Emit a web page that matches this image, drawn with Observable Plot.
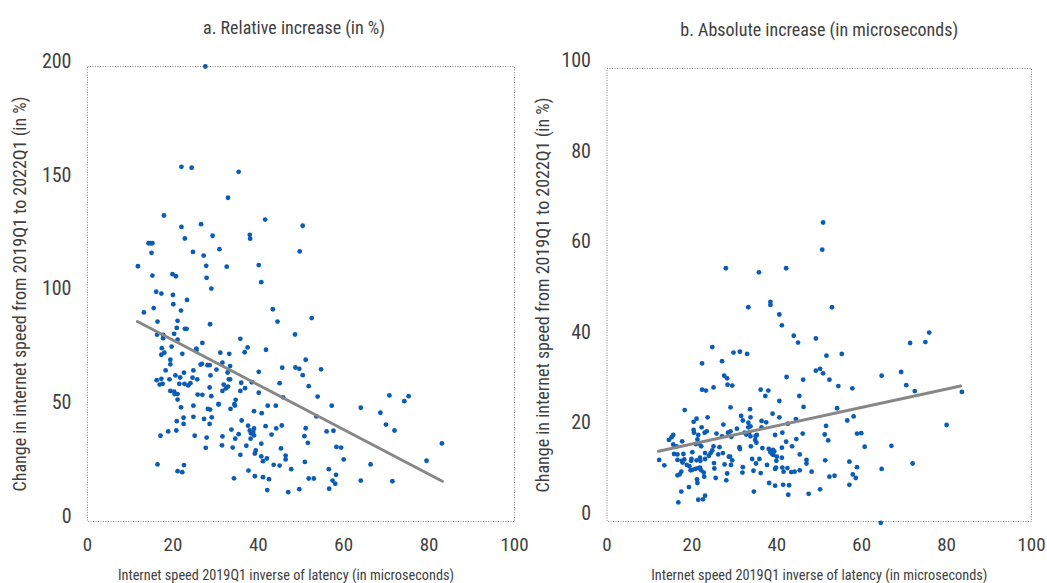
<!DOCTYPE html>
<html><head><meta charset="utf-8">
<script src="https://cdn.jsdelivr.net/npm/d3@7"></script>
<script src="https://cdn.jsdelivr.net/npm/@observablehq/plot@0.6"></script>
<style>
body{margin:0;background:#fff;}
#wrap{position:relative;width:1047px;height:583px;overflow:hidden;}
.panel{position:absolute;top:0;}
</style></head><body><div id="wrap"></div>
<script>
// ---- Panel a: relative increase (in %) ----
const xA = [27.6,22.0,24.4,35.4,32.9,17.9,41.6,22.0,26.6,22.8,29.3,38.0,38.1,14.3,14.8,15.2,15.0,30.9,24.7,27.2,49.7,50.4,11.8,15.2,19.9,20.7,27.8,32.6,40.1,27.9,40.7,29.0,16.1,17.3,20.0,23.3,20.1,15.5,13.2,21.9,43.4,52.5,16.4,21.1,44.5,28.7,20.9,22.8,23.2,16.3,17.7,17.7,20.3,21.1,35.8,48.6,51.1,17.4,19.7,17.3,18.0,22.2,25.5,25.5,26.9,31.1,33.2,36.8,37.5,41.8,19.4,19.4,18.3,16.2,17.3,16.9,17.6,19.2,20.6,21.7,22.6,21.5,22.7,23.6,24.1,24.8,24.6,25.7,26.5,26.8,28.1,28.6,28.8,30.2,31.6,33.4,32.8,33.1,33.4,31.9,32.4,32.9,31.6,36.0,36.9,35.8,38.5,40.1,40.1,45.0,45.6,48.7,49.6,45.8,19.4,20.3,20.4,21.1,21.1,21.9,25.8,26.9,29.0,28.6,30.7,30.7,34.4,34.7,34.5,33.5,24.8,28.2,28.7,24.8,22.5,22.5,20.9,20.8,18.9,17.1,27.3,29.1,28.6,25.1,27.9,27.7,31.6,31.5,33.7,34.6,34.0,35.4,36.1,37.2,35.8,37.6,38.0,38.3,38.8,39.0,39.0,38.2,39.4,39.2,39.0,40.8,40.7,41.7,42.2,44.1,43.1,44.2,45.5,45.3,40.7,41.1,42.0,43.6,45.0,46.4,46.4,47.7,37.7,39.2,41.1,42.5,42.1,47.0,49.6,34.3,16.4,21.1,22.2,22.6,50.4,54.7,51.8,53.9,57.2,53.6,51.1,50.8,51.6,56.0,57.6,50.9,58.3,59.4,60.0,56.5,58.2,51.8,53.0,57.4,58.0,56.6,64.0,64.0,66.3,68.6,70.7,69.9,71.9,71.4,74.2,75.2,79.4,83.0];
const yA = [200,155.9,155.5,153.7,142.3,134.5,132.7,129.5,130.7,124.4,125.6,126.0,124.3,122.3,122.3,122.3,118.1,119.7,118.5,116.9,118.7,130.0,112.2,108.1,108.7,107.8,112.4,112.0,112.7,107.1,105.2,102.4,101.0,100.2,99.6,97.4,95.5,93.8,91.9,92.7,93.3,89.4,87.9,88.2,87.9,86.7,85.1,84.7,84.7,82.1,82.0,80.6,82.5,79.9,80.3,82.2,71.1,76.2,76.9,73.3,74.2,73.7,76.0,75.2,78.5,74.2,73.7,74.4,76.5,75.5,71.1,69.1,66.4,62.1,62.7,60.2,60.5,62.5,64.2,63.3,65.4,60.5,60.5,59.8,60.8,66.4,63.2,62.5,69.0,69.3,68.7,68.7,64.2,66.8,69.8,68.3,65.5,62.5,62.5,60.2,58.5,59.3,57.4,61.0,58.6,57.4,61.2,65.8,56.6,60.8,67.6,67.7,67.1,54.6,57.4,57.1,56.0,56.0,53.6,50.2,55.8,55.7,55.1,58.9,51.7,51.4,51.6,53.5,51.0,49.5,50.9,49.5,49.2,46.0,45.6,42.9,44.1,40.0,39.6,37.7,45.1,45.8,42.9,37.7,36.9,32.4,37.4,33.5,40.4,36.4,32.5,38.4,44.4,33.3,29.3,42.1,40.0,38.8,39.4,40.9,37.9,36.4,31.2,29.9,48.5,47.6,34.2,41.9,50.9,50.9,38.2,40.9,42.2,32.1,28.6,26.5,27.7,24.9,24.6,29.0,27.3,23.0,22.4,19.9,19.5,18.6,13.8,12.9,14.2,19.0,25.1,22.1,21.7,24.8,64.3,66.9,59.5,54.9,50.9,46.2,41.0,37.5,34.6,39.6,39.9,26.2,32.8,32.5,27.3,23.0,20.5,18.9,18.9,18.0,16.6,14.4,50.0,18.0,25.1,47.8,55.4,42.6,40.0,17.7,52.9,55.1,26.7,34.3];
const trendAx = [11.7, 83.1];
const trendAy = [87.9, 17.7];
const yTicksA = [0, 50, 100, 150, 200];

// ---- Panel b: absolute increase (in microseconds) ----
const xB = [28.0,35.8,42.2,33.3,38.5,38.5,40.6,41.2,44.0,45.0,24.8,22.4,27.1,29.8,31.3,33.0,27.6,28.3,28.4,29.5,22.4,23.3,25.1,42.3,36.2,38.0,37.3,40.6,45.3,18.3,29.1,33.7,21.1,20.4,22.3,23.7,31.6,32.0,33.8,27.4,30.6,33.3,33.8,33.3,36.4,37.5,39.0,40.6,44.5,42.6,36.4,15.6,15.2,14.6,15.6,16.4,17.7,20.4,20.5,21.5,20.9,21.7,21.3,23.0,23.5,22.2,25.8,27.1,28.5,29.1,29.3,31.2,31.3,32.4,32.8,33.5,33.8,35.0,35.3,34.9,33.9,35.2,36.6,38.1,39.1,38.5,38.9,39.4,39.2,39.6,41.3,41.2,42.2,43.6,45.4,41.2,40.0,39.9,39.8,39.6,41.3,42.5,41.6,43.4,44.2,45.4,37.7,36.2,34.5,35.1,35.9,34.2,32.0,31.9,29.5,29.0,28.7,29.2,28.3,28.1,27.7,27.3,26.2,26.5,25.1,24.8,24.4,24.0,23.1,23.1,21.9,22.0,21.1,19.9,19.8,20.1,18.0,16.6,15.8,18.2,17.6,16.6,17.8,18.8,19.4,20.1,19.7,20.8,21.5,21.9,22.2,22.8,22.9,21.2,21.3,17.5,17.1,16.6,12.3,13.5,19.3,17.5,16.8,21.5,22.6,23.1,25.3,25.2,25.6,34.6,38.2,39.6,41.5,42.9,42.7,50.9,50.7,53.0,49.2,51.7,55.3,49.2,50.2,50.9,46.2,52.4,64.7,69.3,71.4,75.0,75.9,54.5,57.8,70.5,72.5,83.6,46.3,54.2,56.6,58.1,51.6,46.1,51.3,52.1,44.6,58.9,59.9,60.7,67.0,80.0,47.0,47.0,48.2,51.4,52.4,53.6,57.1,58.9,57.9,58.6,57.1,64.7,72.0,47.5,50.2,64.5];
const yB = [55.9,55.0,55.9,47.3,48.5,47.8,45.7,43.3,41.0,39.5,38.5,34.9,35.4,37.3,37.5,37.0,32.2,31.6,30.2,30.0,29.1,28.9,29.6,31.9,29.1,28.9,27.7,26.6,27.7,24.6,25.2,24.8,22.7,22.0,20.8,23.0,23.3,22.3,23.0,21.4,20.5,21.8,21.0,20.8,22.2,21.9,23.8,23.0,22.6,21.6,20.8,19.1,18.6,18.0,17.0,16.6,17.7,20.2,19.6,19.1,17.1,17.2,18.1,19.6,19.9,16.6,19.4,18.8,19.6,19.9,18.7,16.4,16.0,19.6,19.2,19.6,18.8,18.9,19.1,18.0,16.6,17.4,16.2,16.0,15.8,15.3,14.9,15.5,14.7,19.1,19.6,16.3,17.6,16.6,14.8,14.1,14.3,13.4,11.9,11.6,11.9,11.8,11.0,10.9,11.0,11.3,12.5,10.7,11.2,12.8,13.8,13.8,12.0,10.8,13.5,14.3,14.3,12.5,10.6,9.1,12.6,15.1,14.8,16.4,16.6,15.7,15.1,14.5,15.1,13.8,14.1,13.4,13.5,13.8,13.4,15.3,14.9,14.8,14.9,13.7,13.4,13.6,13.0,12.5,12.2,11.4,11.3,11.6,11.8,11.9,11.3,10.8,9.9,9.3,8.5,11.0,10.4,10.2,13.6,12.4,7.6,6.6,4.2,4.8,4.9,5.7,11.7,12.9,9.6,6.6,8.5,7.9,8.1,8.0,5.9,66.0,60.0,47.3,40.4,36.6,37.0,33.3,33.7,32.7,31.3,31.3,32.2,33.0,39.4,39.6,41.7,29.9,29.4,30.1,28.8,28.6,25.3,25.0,22.3,23.2,21.1,19.4,19.2,17.9,18.2,19.4,19.5,16.5,16.7,21.3,13.6,12.8,11.0,13.5,9.9,10.1,13.2,12.0,10.4,9.6,8.1,11.6,12.8,6.1,7.1,-0.3];
const trendBx = [12.1, 83.3];
const trendBy = [15.5, 29.9];
const yTicksB = [0, 20, 40, 60, 80, 100];

const xTicks = [0, 20, 40, 60, 80, 100];
const titleA = "a. Relative increase (in %)";
const titleB = "b. Absolute increase (in microseconds)";
const yTitle = "Change in internet speed from 2019Q1 to 2022Q1 (in %)";
const xTitle = "Internet speed 2019Q1 inverse of latency (in microseconds)";

const FONT = '"Liberation Sans Narrow", "Roboto Condensed", "DejaVu Sans Condensed", sans-serif';
const INK = "#404040";
const DOT = "#0a5cb5";
const TREND = "#878787";

function panel(o) {
  const pts = o.xs.map((x, i) => ({x, y: o.ys[i]}));
  const trend = o.tx.map((x, i) => ({x, y: o.ty[i]}));
  return Plot.plot({
    width: o.w, height: 583,
    marginLeft: o.ml, marginRight: o.mr, marginTop: o.mt, marginBottom: 62,
    style: {fontFamily: FONT, color: INK, background: "transparent", overflow: "visible"},
    x: {domain: [0, 100]},
    y: {domain: o.ydom},
    marks: [
      Plot.frame({stroke: "#8c8c8c", strokeDasharray: "1,1.5", strokeWidth: 1}),
      Plot.axisX({ticks: xTicks, tickSize: 0, tickPadding: 16, fontSize: 19, label: null, fill: INK}),
      Plot.axisY({ticks: o.yticks, tickSize: 0, tickPadding: 16, fontSize: 20, label: null, dy: o.ydy, fill: INK}),
      Plot.dot(pts, {x: "x", y: "y", r: 2.4, fill: DOT, stroke: "none"}),
      Plot.line(trend, {x: "x", y: "y", stroke: TREND, strokeWidth: 3}),
      Plot.text([o.title], {text: d => d, frameAnchor: "top", dy: -45, dx: o.tdx, fontSize: 18, fill: INK}),
      Plot.text([xTitle], {text: d => d, frameAnchor: "bottom", dy: 58, dx: o.xdx, fontSize: 14.3, fill: INK}),
      Plot.text([yTitle], {text: d => d, frameAnchor: "left", textAnchor: "middle", rotate: -90, dx: o.ydx, fontSize: 18, fill: INK})
    ]
  });
}

const wrap = document.getElementById("wrap");
const a = panel({xs: xA, ys: yA, tx: trendAx, ty: trendAy, w: 523, ml: 87, mr: 9, mt: 66,
  ydom: [0, 200], yticks: yTicksA, ydy: -5, title: titleA, tdx: -7, xdx: -15, ydx: -67});
a.classList.add("panel"); a.style.left = "0px";
const b = panel({xs: xB, ys: yB, tx: trendBx, ty: trendBy, w: 524, ml: 83.5, mr: 16, mt: 68,
  ydom: [0, 100], yticks: yTicksB, ydy: -8, title: titleB, tdx: 0, xdx: 0, ydx: -63.5});
b.classList.add("panel"); b.style.left = "523px";
wrap.appendChild(a); wrap.appendChild(b);
</script>
</body></html>
